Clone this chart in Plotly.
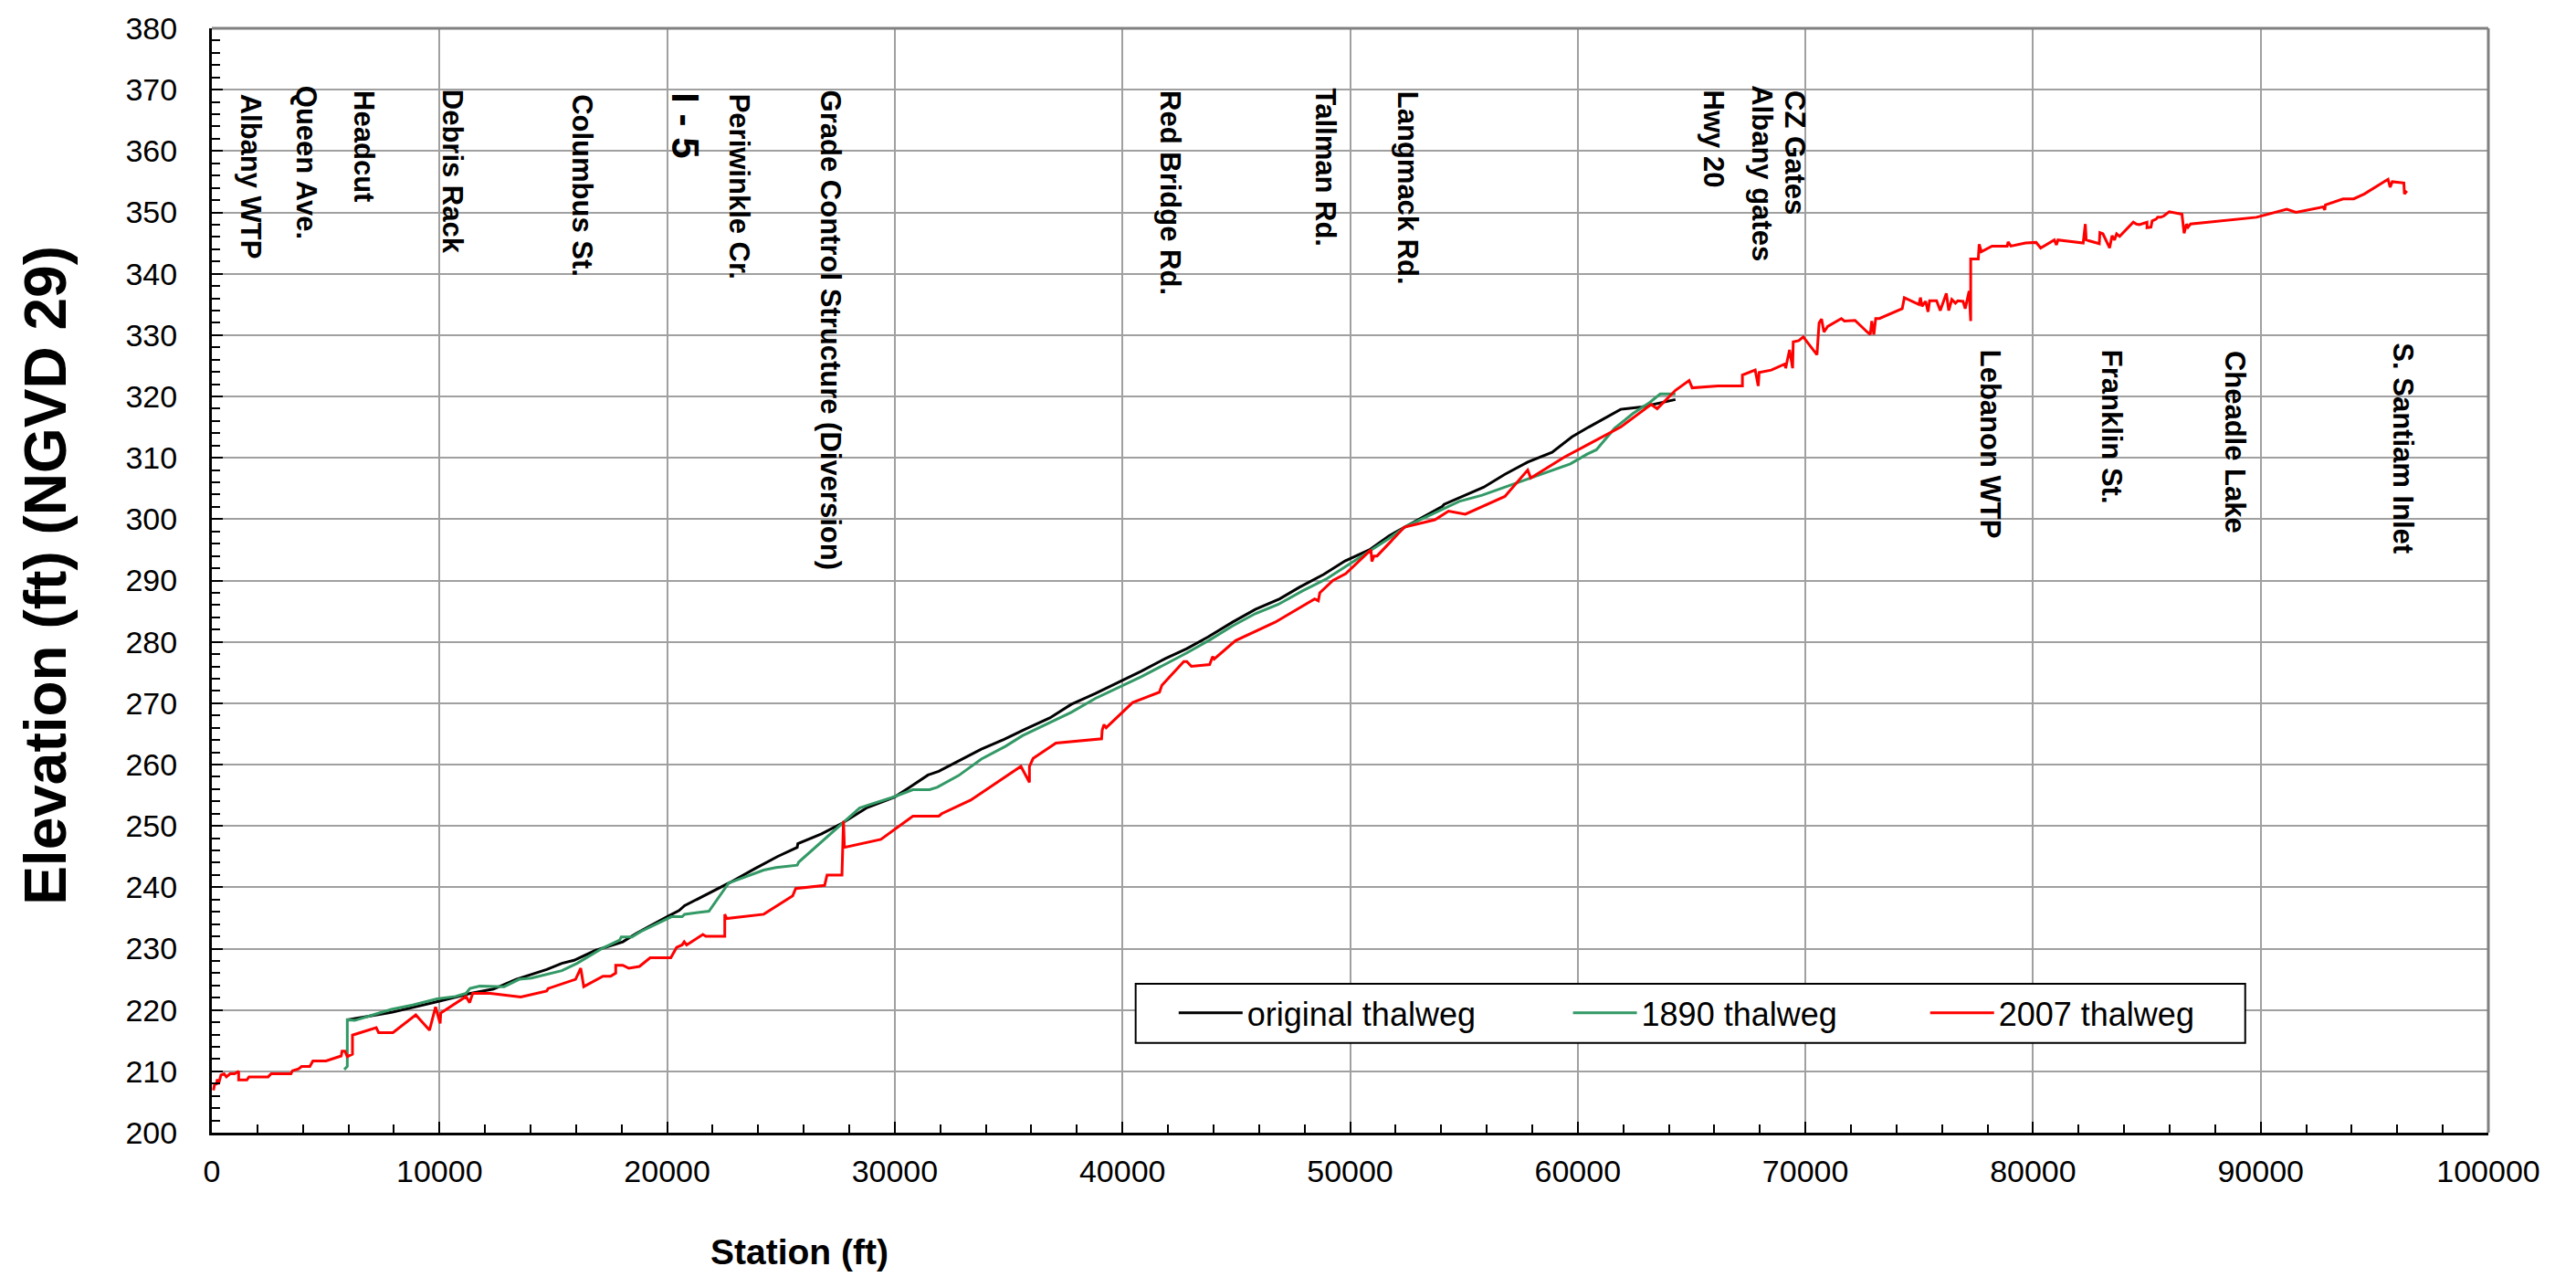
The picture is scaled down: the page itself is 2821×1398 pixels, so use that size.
import plotly.graph_objects as go

# ---------------- data ----------------
orig_station = [5950, 7888, 9827, 11364, 12367, 13370, 14707, 15376, 15910, 16846, 18050, 18652,
                20055, 20523, 20766, 22772, 23842, 24844, 25713, 25740, 26783, 27719, 28789, 29992,
                30660, 31462, 31930, 33802, 34805, 35741, 36811, 37747, 38817, 40823, 41892, 42828,
                43764, 44834, 45836, 46906, 47775, 48845, 49780, 50850, 51719, 52789, 54058, 54125,
                54860, 55863, 56800, 57802, 58872, 59746, 60481, 61885, 62821, 63623, 64292]
orig_elev = [218.4, 219.6, 221.3, 222.7, 223.4, 225.0, 226.6, 227.6, 228.1, 229.7, 231.1, 232.5,
             235.3, 236.2, 237.0, 240.8, 243.0, 245.0, 246.5, 247.1, 248.7, 250.5, 253.0, 254.7,
             256.3, 258.3, 258.9, 262.5, 264.1, 265.8, 267.6, 269.8, 271.6, 275.2, 277.3, 278.9,
             280.8, 283.2, 285.3, 287.0, 288.9, 291.0, 293.2, 295.0, 297.3, 299.5, 302.1, 302.4,
             303.6, 305.2, 307.3, 309.3, 310.9, 313.4, 315.0, 317.9, 318.3, 319.0, 319.5]

t1890_station = [5816, 5950, 5950, 6284, 7086, 7888, 8824, 9894, 10696, 11164, 11338, 11766, 12835,
                 13504, 14039, 15376, 16044, 17180, 17916, 17983, 18451, 18852, 20189, 20657, 20766,
                 21836, 22705, 24243, 24777, 25713, 25780, 27719, 28454, 28922, 29858, 30794, 31529,
                 31863, 32800, 33802, 34872, 35607, 36677, 37747, 38817, 40823, 42828, 43831, 44834,
                 45836, 46839, 47909, 48978, 49914, 50850, 51652, 52454, 53658, 54794, 55799, 57535,
                 58605, 59674, 60414, 60816, 61617, 62420, 63155, 63623, 64292]
t1890_elev = [210.3, 210.8, 218.4, 218.3, 219.2, 220.1, 220.8, 221.8, 222.2, 222.7, 223.5, 223.9, 223.8,
              225.0, 225.2, 226.4, 227.6, 230.1, 231.4, 231.9, 231.9, 232.8, 235.2, 235.2, 235.6,
              236.1, 240.7, 242.8, 243.2, 243.6, 244.1, 250.5, 252.9, 253.5, 254.6, 255.9, 255.9,
              256.3, 258.2, 260.9, 263.0, 264.7, 266.6, 268.5, 270.8, 274.3, 278.2, 280.3, 282.6,
              284.6, 286.1, 288.3, 290.3, 292.5, 294.7, 296.7, 298.8, 300.9, 302.9, 303.9, 306.2,
              307.5, 309.0, 310.6, 311.3, 314.8, 317.2, 319.0, 320.4, 320.4]

t2007_station = [67, 134, 200, 240, 294, 400, 535, 640, 800, 1000, 1177, 1177, 1538, 1631, 2473, 2607,
                 3476, 3543, 3810, 3944, 4305, 4439, 5014, 5682, 5722, 5843, 5950, 6177, 6177, 7220,
                 7327, 7955, 8958, 9560, 9827, 10028, 10054, 11164, 11324, 11458, 12233, 13571, 14707,
                 14774, 15977, 16204, 16338, 17180, 17515, 17741, 17741, 18050, 18317, 18785, 19253,
                 20162, 20415, 20657, 20750, 20857, 21569, 21702, 22531, 22531, 22612, 24243, 25513,
                 25647, 26917, 27024, 27679, 27746, 27786, 29390, 30794, 31930, 32064, 33334, 35540,
                 35915, 35915, 36075, 37077, 39084, 39110, 39190, 39284, 40448, 41625, 41732, 42694,
                 42828, 43028, 43830, 43964, 44031, 44967, 46705, 48443, 48604, 48670, 49245, 49807,
                 50916, 50957, 51050, 51184, 52387, 53725, 54326, 55062, 56800, 57802, 57936, 59407,
                 59746, 60414, 61885, 63222, 63490, 64292, 64893, 65027, 66164, 67233, 67233, 67795,
                 67929, 67969, 68503, 69105, 69132, 69305, 69439, 69466, 69707, 69907, 70509, 70603,
                 70710, 70817, 70977, 71578, 71712, 72180, 72715, 72849, 72916, 73009, 73089, 73250,
                 74253, 74346, 74988, 75055, 75121, 75282, 75389, 75456, 75763, 75924, 76191, 76298,
                 76432, 76592, 76699, 76926, 77020, 77194, 77261, 77261, 77595, 77635, 77729, 78197,
                 78865, 78906, 79026, 79667, 80134, 80334, 80935, 81028, 81095, 82203, 82296, 82336,
                 82910, 82937, 83071, 83364, 83471, 83578, 83671, 83805, 84406, 84539, 84673, 84873,
                 85006, 85006, 85180, 85233, 85407, 85474, 85607, 85740, 85981, 86542, 86636, 86743,
                 86809, 86916, 89813, 91147, 91548, 92749, 92816, 92843, 93617, 94085, 94552, 95593,
                 95687, 95780, 96288, 96315, 96422]
t2007_elev = [206.9, 208.1, 207.8, 208.7, 207.9, 209.4, 209.6, 209.1, 209.6, 209.6, 210.0, 208.6, 208.6,
              209.1, 209.1, 209.6, 209.6, 210.1, 210.4, 210.8, 210.8, 211.7, 211.7, 212.5, 213.3,
              213.3, 212.4, 212.8, 215.9, 217.1, 216.3, 216.3, 219.2, 216.7, 220.5, 217.8, 219.5,
              222.2, 221.2, 222.7, 222.7, 222.1, 223.1, 223.5, 225.0, 226.8, 223.8, 225.5, 225.5,
              226.0, 227.3, 227.3, 226.8, 227.1, 228.5, 228.5, 230.2, 230.6, 231.1, 230.6, 232.3,
              232.0, 232.0, 235.6, 234.9, 235.6, 238.6, 239.8, 240.3, 242.0, 242.0, 250.8, 246.5,
              247.8, 251.6, 251.6, 252.0, 254.2, 259.7, 257.1, 259.7, 261.0, 263.5, 264.2, 265.6,
              266.5, 266.0, 270.1, 271.8, 272.9, 276.8, 276.8, 276.0, 276.3, 277.6, 277.2, 280.2,
              283.2, 287.0, 286.7, 288.0, 290.0, 291.1, 295.0, 293.1, 294.0, 294.0, 298.7, 299.9,
              301.3, 300.8, 303.7, 308.0, 306.7, 310.1, 310.8, 312.1, 315.0, 318.7, 318.0, 321.0,
              322.6, 321.4, 321.7, 321.7, 323.5, 324.3, 321.7, 323.9, 324.3, 325.3, 324.6, 327.6,
              324.6, 328.9, 329.1, 329.7, 326.8, 332.0, 332.6, 330.5, 331.4, 332.7, 332.3, 332.4,
              330.5, 330.1, 332.3, 330.1, 332.7, 332.7, 334.3, 336.1, 335.0, 336.1, 334.7, 335.5,
              333.8, 335.6, 335.6, 334.0, 336.8, 334.0, 335.8, 335.2, 335.6, 335.5, 334.3, 337.2,
              332.3, 342.4, 342.4, 344.8, 343.6, 344.5, 344.5, 345.2, 344.5, 345.0, 345.1, 344.2,
              345.5, 344.7, 345.5, 345.0, 348.1, 345.5, 344.9, 346.7, 346.5, 344.2, 346.2, 345.5,
              346.5, 346.1, 348.4, 348.1, 348.0, 348.2, 348.4, 347.5, 347.6, 348.6, 348.9, 349.2,
              349.2, 349.4, 350.1, 349.7, 346.6, 348.1, 347.6, 348.1, 349.2, 350.5, 350.0, 350.9,
              350.4, 351.2, 352.2, 352.2, 353.0, 355.4, 354.1, 355.0, 354.8, 353.0, 353.5]

# landmark labels (text, station, top elevation of the vertical label)
landmark_names = ["Albany WTP", "Queen Ave.", "Headcut", "Debris Rack", "Columbus St.",
                  "Periwinkle Cr.", "Grade Control Structure (Diversion)", "Red Bridge Rd.",
                  "Tallman Rd.", "Langmack Rd.", "Hwy 20", "Albany gates", "CZ Gates",
                  "Lebanon WTP", "Franklin St.", "Cheadle Lake", "S. Santiam Inlet"]
landmark_station = [1713, 4158, 6647, 10578, 16234, 23173, 27184, 42066, 48926, 52536,
                    65974, 68060, 69504, 78128, 83463, 88878, 96258]
landmark_top = [369.6, 371.0, 370.2, 370.4, 369.6, 369.6, 370.2, 370.2, 370.5, 370.1,
                370.2, 371.0, 370.2, 327.9, 327.9, 327.8, 329.0]
i5_label = "I - 5"
i5_station = 20766
i5_top = 369.9

ARIAL = "Liberation Sans, Arial, sans-serif"

fig = go.Figure()
fig.add_trace(go.Scatter(x=orig_station, y=orig_elev, mode="lines", name="original thalweg",
                         line=dict(color="#000000", width=3), legend="legend"))
fig.add_trace(go.Scatter(x=t1890_station, y=t1890_elev, mode="lines", name="1890 thalweg",
                         line=dict(color="#339966", width=3), legend="legend2"))
fig.add_trace(go.Scatter(x=t2007_station, y=t2007_elev, mode="lines", name="2007 thalweg",
                         line=dict(color="#ff0000", width=3), legend="legend3"))

annotations = []
for name, st, top in zip(landmark_names, landmark_station, landmark_top):
    annotations.append(dict(x=st, y=top, xref="x", yref="y", text="<b>%s</b>" % name,
                            textangle=90, showarrow=False, xanchor="center", yanchor="top",
                            font=dict(family=ARIAL, size=31, color="black")))
annotations.append(dict(x=i5_station, y=i5_top, xref="x", yref="y", text="<b>%s</b>" % i5_label,
                        textangle=90, showarrow=False, xanchor="center", yanchor="top",
                        font=dict(family=ARIAL, size=42, color="black")))
# axis titles
annotations.append(dict(x=-0.0731, y=0.5045, xref="paper", yref="paper",
                        text="<b>Elevation (ft) (NGVD 29)</b>", textangle=-90, showarrow=False,
                        xanchor="center", yanchor="middle",
                        font=dict(family=ARIAL, size=64, color="black")))
annotations.append(dict(x=0.2582, y=-0.1076, xref="paper", yref="paper",
                        text="<b>Station (ft)</b>", showarrow=False,
                        xanchor="center", yanchor="middle",
                        font=dict(family=ARIAL, size=39, color="black")))

legend_common = dict(orientation="h", yanchor="middle", y=0.1085, xanchor="left",
                     bgcolor="rgba(0,0,0,0)", borderwidth=0,
                     font=dict(family=ARIAL, size=36, color="black"), itemwidth=70)

fig.update_layout(
    width=2821, height=1398,
    margin=dict(l=232, r=96, t=23, b=158),
    paper_bgcolor="white", plot_bgcolor="white",
    showlegend=True,
    legend=dict(legend_common, x=0.4227),
    legend2=dict(legend_common, x=0.5959),
    legend3=dict(legend_common, x=0.7528),
    annotations=annotations,
    shapes=[
        dict(type="line", xref="paper", yref="paper", x0=0, x1=1, y0=1, y1=1,
             line=dict(color="#808080", width=3)),
        dict(type="line", xref="paper", yref="paper", x0=1, x1=1, y0=0, y1=1,
             line=dict(color="#808080", width=3)),
        dict(type="rect", xref="paper", yref="paper", x0=0.4058, x1=0.8932, y0=0.0813, y1=0.1348,
             fillcolor="white", line=dict(color="black", width=2), layer="above"),
    ],
)
fig.update_xaxes(range=[0, 100000], dtick=10000, tick0=0, tickformat="d",
                 showgrid=True, gridcolor="#a0a0a0", gridwidth=1.5,
                 showline=True, linecolor="black", linewidth=3, mirror=False,
                 ticks="inside", ticklen=12, tickwidth=2, tickcolor="black",
                 minor=dict(dtick=2000, ticks="inside", ticklen=9, tickwidth=2,
                            tickcolor="black", showgrid=False),
                 ticklabelstandoff=10, zeroline=False,
                 tickfont=dict(family=ARIAL, size=34, color="black"))
fig.update_yaxes(range=[200, 380], dtick=10, tick0=200,
                 showgrid=True, gridcolor="#a0a0a0", gridwidth=1.5,
                 showline=True, linecolor="black", linewidth=3, mirror=False,
                 ticks="inside", ticklen=12, tickwidth=2, tickcolor="black",
                 minor=dict(dtick=2, ticks="inside", ticklen=9, tickwidth=2,
                            tickcolor="black", showgrid=False),
                 ticklabelstandoff=28, zeroline=False,
                 tickfont=dict(family=ARIAL, size=34, color="black"))

fig.write_html("out.html")
